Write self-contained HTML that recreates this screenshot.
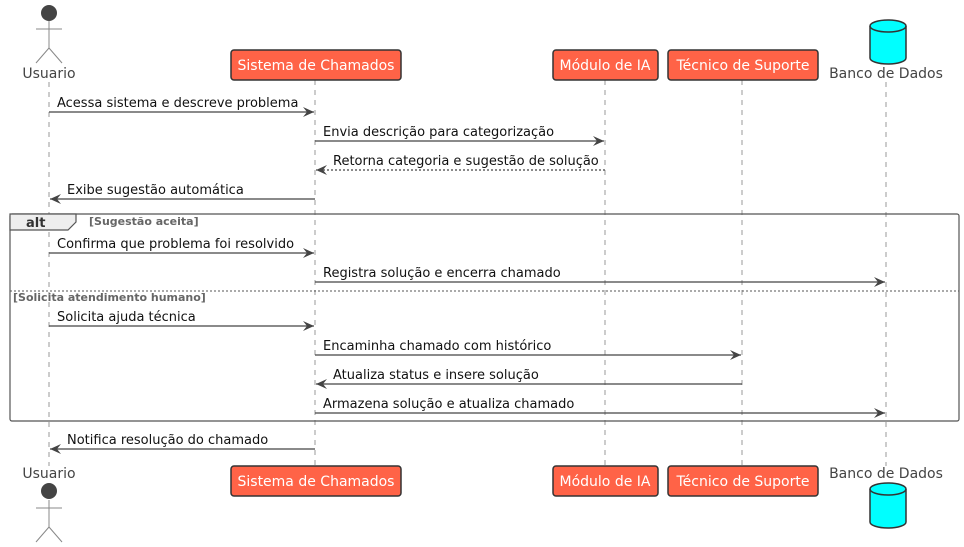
<!DOCTYPE html>
<html><head><meta charset="utf-8"><style>
html,body{margin:0;padding:0;background:#fff;}
svg{display:block;font-family:"DejaVu Sans","Liberation Sans",sans-serif;}
</style></head><body>
<svg width="964" height="547" viewBox="0 0 964 547" xmlns="http://www.w3.org/2000/svg">
<defs>
<marker id="a" markerWidth="12" markerHeight="10" refX="11" refY="5" orient="auto" markerUnits="userSpaceOnUse">
<path d="M0,0 L11,5 L0,10 L4,5 Z" fill="#444"/>
</marker>
</defs>
<g stroke="#999" stroke-width="1" stroke-dasharray="5,5">
<line x1="49" y1="82" x2="49" y2="466"/>
<line x1="315" y1="80" x2="315" y2="466"/>
<line x1="605" y1="80" x2="605" y2="466"/>
<line x1="742" y1="80" x2="742" y2="466"/>
<line x1="886" y1="82" x2="886" y2="466"/>
</g>
<!-- top participants -->
<g stroke="#888" stroke-width="1" fill="none">
<line x1="49" y1="21" x2="49" y2="48"/><line x1="36" y1="29" x2="62" y2="29"/>
<line x1="49" y1="48" x2="36" y2="63"/><line x1="49" y1="48" x2="62" y2="63"/>
<line x1="49" y1="500" x2="49" y2="527"/><line x1="36" y1="508" x2="62" y2="508"/>
<line x1="49" y1="527" x2="36" y2="542"/><line x1="49" y1="527" x2="62" y2="542"/>
</g>
<circle cx="49" cy="13" r="8" fill="#444"/>
<circle cx="49" cy="491" r="8" fill="#444"/>
<g font-size="14" fill="#444" text-anchor="middle">
<text x="49" y="78">Usuario</text>
<text x="49" y="478">Usuario</text>
<text x="886" y="78">Banco de Dados</text>
<text x="886" y="478">Banco de Dados</text>
</g>
<g fill="#FF6347" stroke="#333" stroke-width="1.5">
<rect x="231" y="50" width="170" height="30" rx="3"/>
<rect x="553" y="50" width="105" height="30" rx="3"/>
<rect x="668" y="50" width="150" height="30" rx="3"/>
<rect x="231" y="466" width="170" height="30" rx="3"/>
<rect x="553" y="466" width="105" height="30" rx="3"/>
<rect x="668" y="466" width="150" height="30" rx="3"/>
</g>
<g font-size="14" fill="#fff" text-anchor="middle">
<text x="316" y="70">Sistema de Chamados</text>
<text x="605" y="70">Módulo de IA</text>
<text x="743" y="70">Técnico de Suporte</text>
<text x="316" y="486">Sistema de Chamados</text>
<text x="605" y="486">Módulo de IA</text>
<text x="743" y="486">Técnico de Suporte</text>
</g>
<g fill="#00FFFF" stroke="#333" stroke-width="1.5">
<path d="M870,26 A18,6 0 0 1 906,26 L906,58 A18,6 0 0 1 870,58 Z"/>
<path d="M870,26 A18,6 0 0 0 906,26" fill="none"/>
<path d="M870,489 A18,6 0 0 1 906,489 L906,522 A18,6 0 0 1 870,522 Z"/>
<path d="M870,489 A18,6 0 0 0 906,489" fill="none"/>
</g>
<!-- alt frame -->
<rect x="10" y="214" width="949" height="207" rx="2" fill="none" stroke="#555" stroke-width="1.2"/>
<path d="M10,214 L76,214 L76,222 L68,230 L10,230 Z" fill="#eee" stroke="#555" stroke-width="1.2"/>
<text x="26" y="227" font-size="13" font-weight="bold" fill="#333">alt</text>
<text x="89" y="225" font-size="11" font-weight="bold" fill="#666">[Sugestão aceita]</text>
<line x1="10" y1="291" x2="959" y2="291" stroke="#555" stroke-dasharray="2,2"/>
<text x="13" y="301" font-size="11" font-weight="bold" fill="#666">[Solicita atendimento humano]</text>
<!-- messages -->
<g stroke="#444" stroke-width="1.2" fill="none">
<line x1="49" y1="112" x2="314" y2="112" marker-end="url(#a)"/>
<line x1="315" y1="141" x2="604" y2="141" marker-end="url(#a)"/>
<line x1="605" y1="170" x2="316" y2="170" stroke-dasharray="2,2" marker-end="url(#a)"/>
<line x1="315" y1="199" x2="50" y2="199" marker-end="url(#a)"/>
<line x1="49" y1="253" x2="314" y2="253" marker-end="url(#a)"/>
<line x1="315" y1="282" x2="885" y2="282" marker-end="url(#a)"/>
<line x1="49" y1="326" x2="314" y2="326" marker-end="url(#a)"/>
<line x1="315" y1="355" x2="741" y2="355" marker-end="url(#a)"/>
<line x1="742" y1="384" x2="316" y2="384" marker-end="url(#a)"/>
<line x1="315" y1="413" x2="885" y2="413" marker-end="url(#a)"/>
<line x1="315" y1="449" x2="50" y2="449" marker-end="url(#a)"/>
</g>
<g font-size="13" fill="#111">
<text x="57" y="107">Acessa sistema e descreve problema</text>
<text x="323" y="136">Envia descrição para categorização</text>
<text x="333" y="165">Retorna categoria e sugestão de solução</text>
<text x="67" y="194">Exibe sugestão automática</text>
<text x="57" y="248">Confirma que problema foi resolvido</text>
<text x="323" y="277">Registra solução e encerra chamado</text>
<text x="57" y="321">Solicita ajuda técnica</text>
<text x="323" y="350">Encaminha chamado com histórico</text>
<text x="333" y="379">Atualiza status e insere solução</text>
<text x="323" y="408">Armazena solução e atualiza chamado</text>
<text x="67" y="444">Notifica resolução do chamado</text>
</g>
</svg>
</body></html>
